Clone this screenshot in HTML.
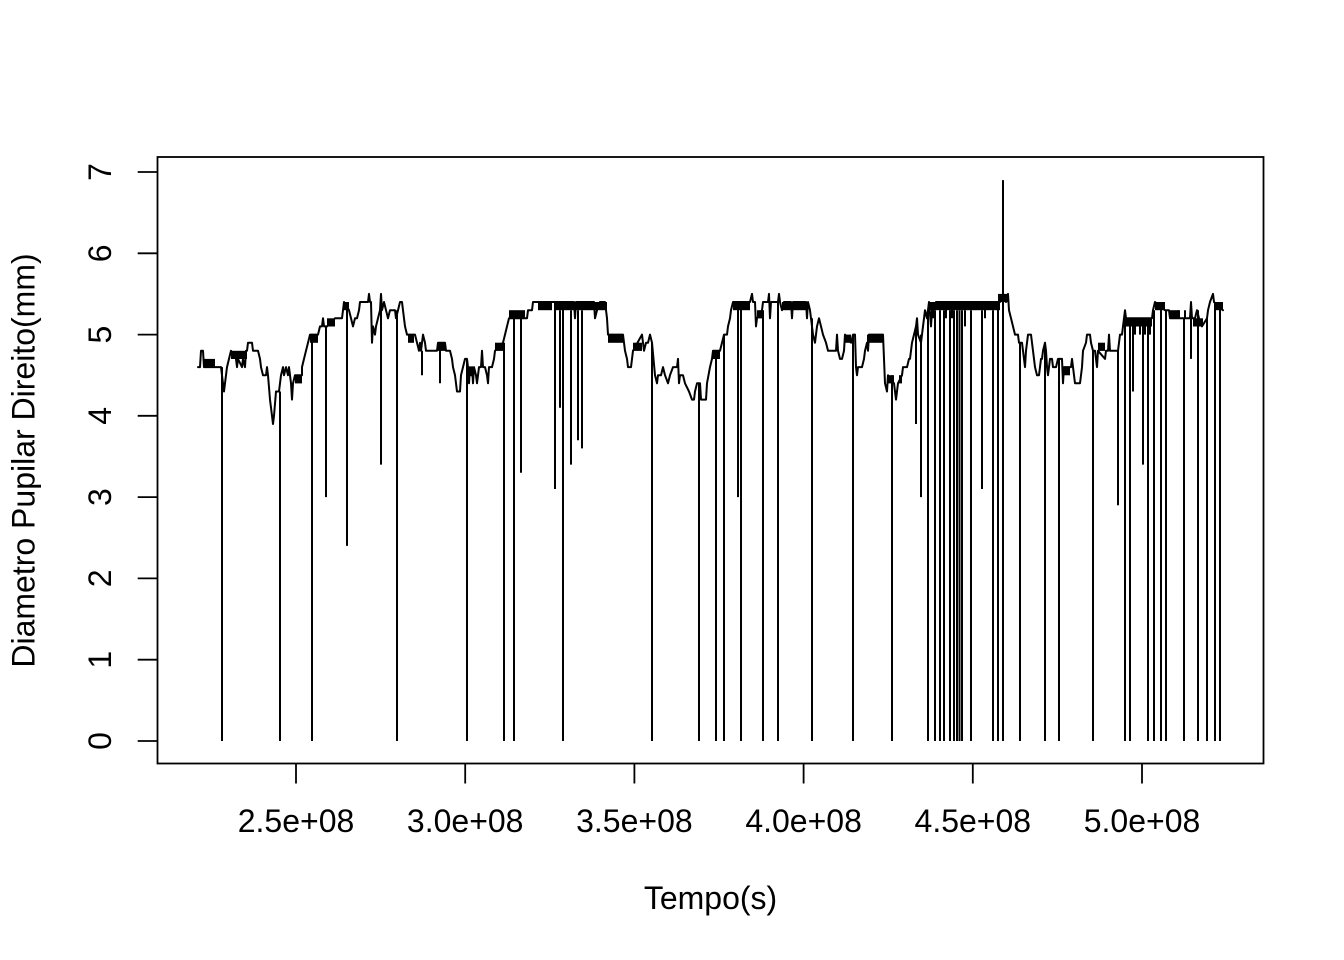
<!DOCTYPE html>
<html>
<head>
<meta charset="utf-8">
<style>
html,body{margin:0;padding:0;background:#fff;}
svg{display:block;}
text{font-family:"Liberation Sans",Arial,sans-serif;font-size:32px;fill:#000;}
</style>
</head>
<body>
<svg width="1344" height="960" viewBox="0 0 1344 960" xmlns="http://www.w3.org/2000/svg">
<rect x="0" y="0" width="1344" height="960" fill="#fff"/>

<!-- plot box -->
<rect x="157.5" y="157" width="1106" height="606.5" fill="none" stroke="#000" stroke-width="1.8"/>

<!-- x ticks -->
<g stroke="#000" stroke-width="1.8">
<line x1="296" y1="763.5" x2="296" y2="783.5"/>
<line x1="465.2" y1="763.5" x2="465.2" y2="783.5"/>
<line x1="634.4" y1="763.5" x2="634.4" y2="783.5"/>
<line x1="803.6" y1="763.5" x2="803.6" y2="783.5"/>
<line x1="972.8" y1="763.5" x2="972.8" y2="783.5"/>
<line x1="1142" y1="763.5" x2="1142" y2="783.5"/>
</g>
<!-- y ticks -->
<g stroke="#000" stroke-width="1.8">
<line x1="137.7" y1="741" x2="157.5" y2="741"/>
<line x1="137.7" y1="659.7" x2="157.5" y2="659.7"/>
<line x1="137.7" y1="578.4" x2="157.5" y2="578.4"/>
<line x1="137.7" y1="497.1" x2="157.5" y2="497.1"/>
<line x1="137.7" y1="415.8" x2="157.5" y2="415.8"/>
<line x1="137.7" y1="334.6" x2="157.5" y2="334.6"/>
<line x1="137.7" y1="253.3" x2="157.5" y2="253.3"/>
<line x1="137.7" y1="172" x2="157.5" y2="172"/>
</g>

<!-- x tick labels -->
<g text-anchor="middle">
<text x="296" y="832">2.5e+08</text>
<text x="465.2" y="832">3.0e+08</text>
<text x="634.4" y="832">3.5e+08</text>
<text x="803.6" y="832">4.0e+08</text>
<text x="972.8" y="832">4.5e+08</text>
<text x="1142" y="832">5.0e+08</text>
</g>
<!-- y tick labels -->
<g text-anchor="middle">
<text transform="translate(111,741) rotate(-90)">0</text>
<text transform="translate(111,659.7) rotate(-90)">1</text>
<text transform="translate(111,578.4) rotate(-90)">2</text>
<text transform="translate(111,497.1) rotate(-90)">3</text>
<text transform="translate(111,415.8) rotate(-90)">4</text>
<text transform="translate(111,334.6) rotate(-90)">5</text>
<text transform="translate(111,253.3) rotate(-90)">6</text>
<text transform="translate(111,172) rotate(-90)">7</text>
</g>

<!-- axis titles -->
<text x="710.5" y="909" text-anchor="middle">Tempo(s)</text>
<text transform="translate(34.5,460.5) rotate(-90)" text-anchor="middle">Diametro Pupilar Direito(mm)</text>

<!-- dense blocks -->
<g fill="#000">
<rect x="204" y="358.9" width="11" height="8.2"/>
<rect x="231" y="350.8" width="16" height="8.2"/>
<rect x="295" y="375.2" width="7" height="8.2"/>
<rect x="310" y="334.6" width="8" height="8.2"/>
<rect x="327" y="318.3" width="8" height="8.2"/>
<rect x="344" y="302.0" width="5" height="8.2"/>
<rect x="408" y="334.6" width="6" height="8.2"/>
<rect x="438" y="342.7" width="7" height="8.2"/>
<rect x="495" y="342.7" width="8" height="8.2"/>
<rect x="509" y="310.2" width="16" height="8.2"/>
<rect x="538" y="302.0" width="14" height="8.2"/>
<rect x="556" y="302.0" width="51" height="8.2"/>
<rect x="608" y="334.6" width="15" height="8.2"/>
<rect x="633" y="342.7" width="9" height="8.2"/>
<rect x="713" y="350.8" width="7" height="8.2"/>
<rect x="733" y="302.0" width="17" height="8.2"/>
<rect x="757" y="310.2" width="5" height="8.2"/>
<rect x="782" y="302.0" width="24" height="8.2"/>
<rect x="845" y="334.6" width="6" height="8.2"/>
<rect x="867" y="334.6" width="16" height="8.2"/>
<rect x="888" y="375.2" width="6" height="8.2"/>
<rect x="899" y="375.2" width="3" height="8.2"/>
<rect x="930" y="302.0" width="70" height="8.2"/>
<rect x="998" y="293.9" width="10" height="8.2"/>
<rect x="1064" y="367.1" width="6" height="8.2"/>
<rect x="1098" y="342.7" width="7" height="8.2"/>
<rect x="1126" y="318.3" width="26" height="8.2"/>
<rect x="1155" y="302.0" width="10" height="8.2"/>
<rect x="1170" y="310.2" width="10" height="8.2"/>
<rect x="1193" y="318.3" width="10" height="8.2"/>
<rect x="1214" y="302.0" width="9" height="8.2"/>
</g>

<!-- main trace -->
<polyline fill="none" stroke="#000" stroke-width="2" stroke-linejoin="round" stroke-linecap="round"
points="198,367.1 200,367.1 201,350.8 203,350.8 204,367.1 215,367.1 221,367.1 222,375.2 224,391.5 225,383.3 227,367.1 229,358.9 231,350.8 236,358.9 237,367.1 238,358.9 242,367.1 243,358.9 245,367.1 246,350.8 247,350.8 248,342.7 252,342.7 253,350.8 258,350.8 260,358.9 261,367.1 263,375.2 266,375.2 267,367.1 268,375.2 270,399.6 272,415.8 273,424.0 274,415.8 276,391.5 279,391.5 281,375.2 283,367.1 284,375.2 286,367.1 288,375.2 289,367.1 291,383.3 292,399.6 293,383.3 295,375.2 302,375.2 302,367.1 304,358.9 306,350.8 308,342.7 310,334.6 318,334.6 320,326.4 322,326.4 323,318.3 324,326.4 327,326.4 335,318.3 342,318.3 343,310.2 344,302.0 349,310.2 351,318.3 353,326.4 355,318.3 357,318.3 359,310.2 360,302.0 368,302.0 369,293.9 370,302.0 371,302.0 372,342.7 373,326.4 375,334.6 376,326.4 378,318.3 380,310.2 381,293.9 382,310.2 384,302.0 386,310.2 388,318.3 390,310.2 395,310.2 396,318.3 398,310.2 400,302.0 402,302.0 403,310.2 404,318.3 405,326.4 407,334.6 415,334.6 417,342.7 419,350.8 420,342.7 421,350.8 423,334.6 425,342.7 426,350.8 437,350.8 438,342.7 441,342.7 445,342.7 446,350.8 450,350.8 452,358.9 453,367.1 455,375.2 457,391.5 460,391.5 461,375.2 463,367.1 465,358.9 467,358.9 468,367.1 469,383.3 470,367.1 471,375.2 472,367.1 473,383.3 474,367.1 476,375.2 477,383.3 478,375.2 479,367.1 481,367.1 482,350.8 483,367.1 485,367.1 487,375.2 488,383.3 489,367.1 492,367.1 494,358.9 495,350.8 503,342.7 505,334.6 507,326.4 509,318.3 527,318.3 528,310.2 532,310.2 533,302.0 538,302.0 552,302.0 556,302.0 574,302.0 575,318.3 576,302.0 594,302.0 595,318.3 597,310.2 600,302.0 605,302.0 607,318.3 608,334.6 623,334.6 625,350.8 627,358.9 628,367.1 631,367.1 633,350.8 642,334.6 644,350.8 646,342.7 648,342.7 650,334.6 652,342.7 655,375.2 657,383.3 658,375.2 661,375.2 663,367.1 665,375.2 668,383.3 670,375.2 673,367.1 677,367.1 678,358.9 679,383.3 680,375.2 683,375.2 685,383.3 689,391.5 692,399.6 694,399.6 695,391.5 697,383.3 700,383.3 701,399.6 706,399.6 707,383.3 710,367.1 712,358.9 713,350.8 720,350.8 722,342.7 724,334.6 727,334.6 728,326.4 730,318.3 731,310.2 733,302.0 750,302.0 752,293.9 753,302.0 755,302.0 756,326.4 757,318.3 762,310.2 763,302.0 768,302.0 769,293.9 770,318.3 771,302.0 778,302.0 779,293.9 780,302.0 782,310.2 784,302.0 791,302.0 792,318.3 793,302.0 806,302.0 807,318.3 808,302.0 810,310.2 811,318.3 813,334.6 815,342.7 817,326.4 819,318.3 821,326.4 823,334.6 826,342.7 828,350.8 836,350.8 837,334.6 838,350.8 840,358.9 842,358.9 844,350.8 845,334.6 851,342.7 853,334.6 855,334.6 856,367.1 857,375.2 858,367.1 862,367.1 864,358.9 865,350.8 867,342.7 868,350.8 869,334.6 883,334.6 885,383.3 887,391.5 888,375.2 894,383.3 895,391.5 896,399.6 898,383.3 902,375.2 903,367.1 907,367.1 909,358.9 910,358.9 912,342.7 914,334.6 916,326.4 917,318.3 918,334.6 921,342.7 922,334.6 923,326.4 925,310.2 927,318.3 929,302.0 931,326.4 932,310.2 936,302.0 1000,302.0 1003,293.9 1006,302.0 1008,293.9 1009,310.2 1011,318.3 1013,326.4 1015,334.6 1018,334.6 1019,342.7 1022,342.7 1023,350.8 1025,367.1 1026,350.8 1027,342.7 1028,334.6 1031,334.6 1032,342.7 1033,350.8 1035,367.1 1037,375.2 1039,375.2 1040,367.1 1041,358.9 1042,358.9 1043,350.8 1045,342.7 1046,350.8 1047,367.1 1048,375.2 1049,367.1 1050,358.9 1052,358.9 1053,367.1 1056,367.1 1058,358.9 1062,358.9 1063,383.3 1064,367.1 1071,367.1 1072,358.9 1073,367.1 1075,383.3 1080,383.3 1081,375.2 1082,367.1 1083,350.8 1086,342.7 1087,334.6 1090,334.6 1091,342.7 1093,350.8 1095,350.8 1097,367.1 1098,350.8 1105,358.9 1106,350.8 1108,350.8 1109,334.6 1110,350.8 1118,350.8 1119,342.7 1120,334.6 1122,334.6 1123,326.4 1125,310.2 1126,318.3 1152,318.3 1153,310.2 1155,302.0 1165,310.2 1169,310.2 1170,318.3 1190,318.3 1191,302.0 1192,318.3 1195,318.3 1197,310.2 1199,318.3 1202,326.4 1207,318.3 1208,310.2 1210,302.0 1213,293.9 1214,302.0 1223,310.2"/>

<!-- dropouts and spikes -->
<path fill="none" stroke="#000" stroke-width="2" stroke-linecap="butt"
d="M222 367.1V741 M280 391.5V741 M312 334.6V741 M397 310.2V741 M467 358.9V741 M504 342.7V741 M514 318.3V741 M563 302V741 M652 342.7V741 M699 383.3V741 M716 350.8V741 M724 334.6V741 M741 302V741 M763 310.2V741 M778 302V741 M812 318.3V741 M853 334.6V741 M892 375.2V741 M928 310.2V741 M935 310.2V741 M940 310.2V741 M944 310.2V741 M950 310.2V741 M954 310.2V741 M957 310.2V741 M959.5 310.2V741 M962 310.2V741 M971 310.2V741 M993 310.2V741 M998 302V741 M1003 302V741 M1020 342.7V741 M1045 342.7V741 M1059 358.9V741 M1093 350.8V741 M1125 318.3V741 M1130 318.3V741 M1148 318.3V741 M1154 310.2V741 M1161 302V741 M1166 310.2V741 M1184 318.3V741 M1198 310.2V741 M1207 318.3V741 M1215 302V741 M1220 302V741
M326 326.4V497.1 M347 302V545.9 M381 310.2V464.6 M440 342.7V383.3 M422 350.8V375.2 M521 318.3V472.7 M555 302V489 M560 310.2V407.7 M571 310.2V464.6 M578 310.2V440.2 M582 310.2V448.4 M738 302V497.1 M916 326.4V424 M921 334.6V497.1 M982 310.2V489 M1118 350.8V505.3 M1133 318.3V391.5 M1143 318.3V464.6 M1191 318.3V358.9
M1003 302V180.1
M933 302V318.3 M946 302V318.3 M952 302V318.3 M985 302V318.3 M965 310.2V326.4
M1130 318.3V334.6 M1135 318.3V334.6 M1140 318.3V334.6 M1145 318.3V334.6 M1150 318.3V334.6 M1178 310.2V318.3 M1185 310.2V318.3"/>
</svg>
</body>
</html>
